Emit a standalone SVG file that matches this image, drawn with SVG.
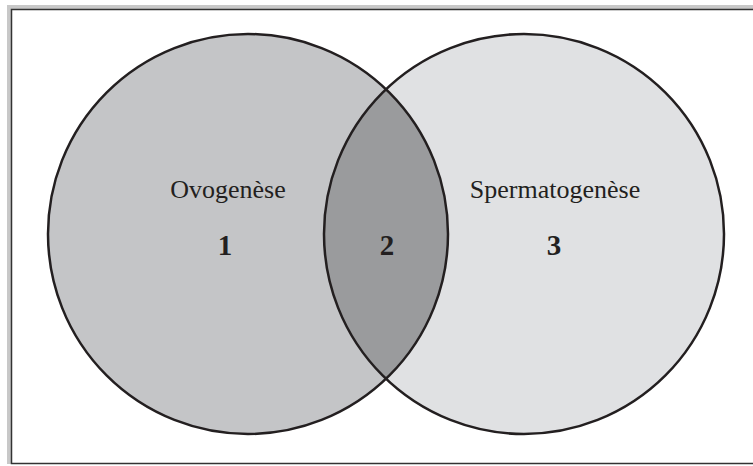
<svg xmlns="http://www.w3.org/2000/svg" width="753" height="466" viewBox="0 0 753 466">
<style>
.c{stroke:#231f20;stroke-width:2.5}
.lbl{font-family:"Liberation Serif","Times New Roman",serif;font-size:26px;fill:#231f20;text-anchor:middle}
.num{font-family:"Liberation Serif","Times New Roman",serif;font-size:29px;font-weight:bold;fill:#231f20;text-anchor:middle}
</style>
<defs>
<clipPath id="clipL"><circle cx="248" cy="234" r="200"/></clipPath>
</defs>
<rect x="0" y="0" width="753" height="466" fill="#fff"/>
<g id="frame">
<rect x="7" y="5" width="800" height="459" fill="#c8c8c8"/>
<rect x="11.5" y="9.5" width="800" height="454" fill="#fff" stroke="#333" stroke-width="1.5"/>
</g>
<g id="set1">
<circle cx="248" cy="234" r="200" fill="#c4c5c7"/>
</g>
<g id="set3">
<circle cx="524" cy="234" r="200" fill="#e0e1e3"/>
</g>
<g id="set2">
<circle cx="524" cy="234" r="200" fill="#9a9b9d" clip-path="url(#clipL)"/>
</g>
<g id="outlines">
<circle class="c" cx="248" cy="234" r="200" fill="none"/>
<circle class="c" cx="524" cy="234" r="200" fill="none"/>
</g>
<g id="labels">
<text class="lbl" x="228" y="198">Ovogenèse</text>
<text class="num" x="225" y="255">1</text>
<text class="num" x="387" y="255">2</text>
<text class="lbl" x="555" y="198">Spermatogenèse</text>
<text class="num" x="554" y="255">3</text>
</g>
</svg>
